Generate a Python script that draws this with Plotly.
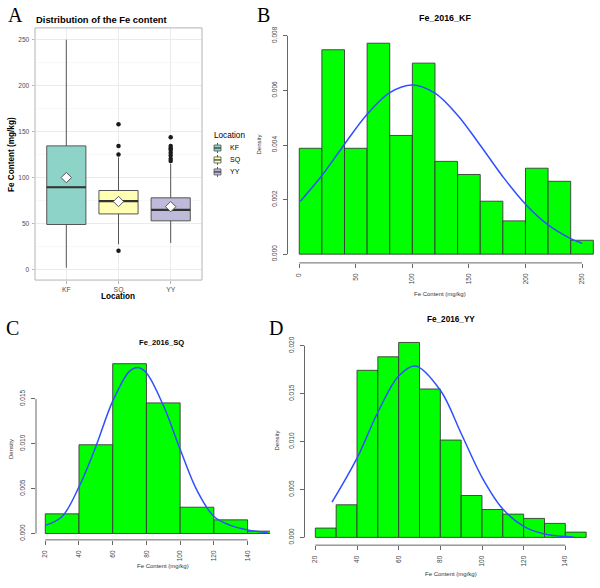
import plotly.graph_objects as go

W, H = 600, 588
def fx(p): return p / W
def fy(p): return 1 - p / H

# ---------------- Panel A data (box plot) ----------------
locations = ["KF", "SQ", "YY"]
loc_pos = [1, 2, 3]
box_q1 = [49, 60.5, 53]
box_median = [89.5, 74.4, 65]
box_q3 = [134.5, 86, 78]
box_lower = [2, 27.5, 29]
box_upper = [250, 122, 115]
box_mean = [100, 74, 68.4]
box_colors = ["#8DD3C7", "#FFFFB3", "#BEBADA"]
sq_outliers = [20.5, 125, 134.5, 158]
yy_outliers = [118, 120.5, 124, 127, 130, 132, 134.5, 144]

# ---------------- Panel B data (KF histogram) ----------------
kf_breaks = [0, 20, 40, 60, 80, 100, 120, 140, 160, 180, 200, 220, 240, 260]
kf_density = [0.00388, 0.00749, 0.00388, 0.00773, 0.00435, 0.00700, 0.00340,
              0.00292, 0.00194, 0.00122, 0.00315, 0.00267, 0.00051]
kf_curve_x = [1, 20, 40, 60, 80, 100, 120, 140, 160, 180, 200, 220, 240, 250]
kf_curve_y = [0.00194, 0.00288, 0.00403, 0.00513, 0.00592, 0.00620, 0.00590,
              0.00509, 0.00399, 0.00284, 0.00183, 0.00107, 0.00057, 0.00040]

# ---------------- Panel C data (SQ histogram) ----------------
sq_breaks = [20, 40, 60, 80, 100, 120, 140, 160]
sq_density = [0.00219, 0.00989, 0.01893, 0.01456, 0.00293, 0.00152, 0.00026]
sq_curve_x = [20, 30, 40, 50, 60, 70, 75, 80, 90, 100, 110, 120, 130, 140, 152]
sq_curve_y = [0.0009, 0.0019, 0.0052, 0.0097, 0.01475, 0.0181, 0.0185, 0.0179,
              0.01429, 0.0094, 0.0048, 0.0019, 0.0009, 0.0004, 0.0001]

# ---------------- Panel D data (YY histogram) ----------------
yy_breaks = [20, 30, 40, 50, 60, 70, 80, 90, 100, 110, 120, 130, 140, 150]
yy_density = [0.00097, 0.00340, 0.01744, 0.01885, 0.02035, 0.01549, 0.01016,
              0.00437, 0.00291, 0.00243, 0.00198, 0.00146, 0.00055]
yy_curve_x = [28, 40, 50, 60, 68, 80, 90, 100, 110, 120, 130, 144]
yy_curve_y = [0.00367, 0.00827, 0.01306, 0.01685, 0.01789, 0.01536, 0.01085,
              0.00627, 0.00296, 0.00115, 0.00036, 0.00005]

SANS = "Liberation Sans, Arial, sans-serif"
SERIF = "Liberation Serif, Times New Roman, serif"
GREEN = "#00FF00"
BARLINE = "#3a3a3a"
BLUE = "#3050FF"
AXC = "#666666"

fig = go.Figure()

# ---- Panel A ----
bw = 0.75
for i, loc in enumerate(locations):
    fig.add_trace(go.Box(
        x=[loc_pos[i]], q1=[box_q1[i]], median=[box_median[i]], q3=[box_q3[i]],
        lowerfence=[box_lower[i]], upperfence=[box_upper[i]],
        width=bw, whiskerwidth=0, boxpoints=False,
        fillcolor=box_colors[i], line=dict(color="#555555", width=1),
        name=loc, showlegend=False, xaxis="x", yaxis="y", hoverinfo="skip"))
    fig.add_trace(go.Scatter(
        x=[loc_pos[i] - bw / 2, loc_pos[i] + bw / 2],
        y=[box_median[i], box_median[i]], mode="lines",
        line=dict(color="#333333", width=2.2), showlegend=False,
        xaxis="x", yaxis="y", hoverinfo="skip"))

fig.add_trace(go.Scatter(
    x=[loc_pos[1]] * len(sq_outliers) + [loc_pos[2]] * len(yy_outliers),
    y=sq_outliers + yy_outliers, mode="markers",
    marker=dict(color="#1a1a1a", size=4.5), showlegend=False,
    xaxis="x", yaxis="y", hoverinfo="skip"))
fig.add_trace(go.Scatter(
    x=loc_pos, y=box_mean, mode="markers",
    marker=dict(symbol="diamond", color="white", size=8,
                line=dict(color="#555555", width=1)),
    showlegend=False, xaxis="x", yaxis="y", hoverinfo="skip"))

# ---- Histograms ----
def add_hist(breaks, dens, cx, cy, xa, ya):
    centers = [(breaks[k] + breaks[k + 1]) / 2 for k in range(len(dens))]
    widths = [breaks[k + 1] - breaks[k] for k in range(len(dens))]
    fig.add_trace(go.Bar(x=centers, y=dens, width=widths,
                         marker=dict(color=GREEN, line=dict(color=BARLINE, width=0.9)),
                         showlegend=False, xaxis=xa, yaxis=ya, hoverinfo="skip"))
    fig.add_trace(go.Scatter(x=cx, y=cy, mode="lines", line=dict(color=BLUE, width=1.5, shape="spline"),
                             showlegend=False, xaxis=xa, yaxis=ya, hoverinfo="skip"))

add_hist(kf_breaks, kf_density, kf_curve_x, kf_curve_y, "x2", "y2")
add_hist(sq_breaks, sq_density, sq_curve_x, sq_curve_y, "x3", "y3")
add_hist(yy_breaks, yy_density, yy_curve_x, yy_curve_y, "x4", "y4")

tickfont = dict(family=SANS, size=6.5, color="#444444")

def r_axes(xd, yd, xr, yr, xt, yt, ytxt):
    xa = dict(domain=xd, range=xr, tickvals=xt, ticktext=[str(v) for v in xt],
              tickangle=-90, ticks="outside", ticklen=4, tickcolor=AXC, tickwidth=1,
              showline=False, showgrid=False, zeroline=False, tickfont=tickfont,
              ticklabelstandoff=3, fixedrange=True)
    ya = dict(domain=yd, range=yr, tickvals=yt, ticktext=ytxt,
              tickangle=-90, ticks="outside", ticklen=4, tickcolor=AXC, tickwidth=1,
              showline=False, showgrid=False, zeroline=False, tickfont=tickfont,
              ticklabelstandoff=3, fixedrange=True)
    return xa, ya

kf_xt = [0, 50, 100, 150, 200, 250]
kf_yt = [0, 0.002, 0.004, 0.006, 0.008]
sq_xt = [20, 40, 60, 80, 100, 120, 140]
sq_yt = [0, 0.005, 0.010, 0.015]
yy_xt = [20, 40, 60, 80, 100, 120, 140]
yy_yt = [0, 0.005, 0.010, 0.015, 0.020]

x2, y2 = r_axes([fx(287.5), 1.0], [fy(262.8), fy(26.2)], [-10.4, 265.9], [-0.00032, 0.00832],
                kf_xt, kf_yt, ["%.3f" % v for v in kf_yt])
x3, y3 = r_axes([fx(36), fx(270)], [fy(540.7), fy(357)], [14.5, 153.3], [-0.00071, 0.0197],
                sq_xt, sq_yt, ["%.3f" % v for v in sq_yt])
x4, y4 = r_axes([fx(304.5), fx(597)], [fy(546), fy(335.3)], [14.8, 155.2], [-0.00081, 0.02111],
                yy_xt, yy_yt, ["%.3f" % v for v in yy_yt])
x2["anchor"] = "y2"; y2["anchor"] = "x2"
x3["anchor"] = "y3"; y3["anchor"] = "x3"
x4["anchor"] = "y4"; y4["anchor"] = "x4"

shapes = []
for (xa, ya, xt, yt) in [("x2", "y2", kf_xt, kf_yt), ("x3", "y3", sq_xt, sq_yt), ("x4", "y4", yy_xt, yy_yt)]:
    shapes.append(dict(type="line", xref=xa, yref=ya + " domain", x0=xt[0], x1=xt[-1], y0=0, y1=0,
                       line=dict(color=AXC, width=1)))
    shapes.append(dict(type="line", xref=xa + " domain", yref=ya, x0=0, x1=0, y0=yt[0], y1=yt[-1],
                       line=dict(color=AXC, width=1)))
# Panel A border
shapes.append(dict(type="rect", xref="x domain", yref="y domain", x0=0, x1=1, y0=0, y1=1,
                   line=dict(color="#B3B3B3", width=1), layer="above"))

annotations = []
def ann(text, x, y, size, bold=False, angle=0, family=SANS, color="#000000", xanchor="center"):
    annotations.append(dict(text=("<b>%s</b>" % text) if bold else text, x=fx(x), y=fy(y),
                            xref="paper", yref="paper", showarrow=False, textangle=angle,
                            xanchor=xanchor, yanchor="middle",
                            font=dict(family=family, size=size, color=color)))

# Manual legend for panel A
ann("Location", 212, 134.5, 8.2, xanchor="left")
leg_y = [147.5, 159.5, 171.5]
for i, loc in enumerate(locations):
    yc = leg_y[i]
    shapes.append(dict(type="line", xref="paper", yref="paper", x0=fx(217.5), x1=fx(217.5),
                       y0=fy(yc - 5), y1=fy(yc + 5), line=dict(color="#555555", width=1)))
    shapes.append(dict(type="rect", xref="paper", yref="paper", x0=fx(214), x1=fx(221),
                       y0=fy(yc + 3), y1=fy(yc - 3), fillcolor=box_colors[i],
                       line=dict(color="#555555", width=0.8)))
    shapes.append(dict(type="line", xref="paper", yref="paper", x0=fx(214), x1=fx(221),
                       y0=fy(yc), y1=fy(yc), line=dict(color="#333333", width=1.2)))
    ann(loc, 227.5, yc, 7, xanchor="left")

a_yt = [0, 50, 100, 150, 200, 250]

ann("A", 15, 14, 20, family=SERIF)
ann("B", 263, 14, 20, family=SERIF)
ann("C", 12, 328, 20, family=SERIF)
ann("D", 276, 328, 20, family=SERIF)

ann("Distribution of the Fe content", 34, 18.5, 9.4, bold=True, xanchor="left")
ann("Fe Content (mg/kg)", 11.5, 154, 8.2, bold=True, angle=-90)
ann("Location", 117.5, 296.5, 8.2, bold=True)

ann("Fe_2016_KF", 445, 17, 8.9, bold=True)
ann("Density", 259, 144, 6, angle=-90, color="#333333")
ann("Fe Content (mg/kg)", 440, 294.5, 6, color="#333333")

ann("Fe_2016_SQ", 161, 343, 7.6, bold=True)
ann("Density", 11, 449.5, 6, angle=-90, color="#333333")
ann("Fe Content (mg/kg)", 163, 566.5, 6, color="#333333")

ann("Fe_2016_YY", 450.5, 319.5, 8.2, bold=True)
ann("Density", 276, 441, 6, angle=-90, color="#333333")
ann("Fe Content (mg/kg)", 450.5, 575, 6, color="#333333")

fig.update_layout(
    width=W, height=H, margin=dict(l=0, r=0, t=0, b=0),
    paper_bgcolor="white", plot_bgcolor="white",
    showlegend=False, boxmode="overlay",
    xaxis=dict(domain=[fx(35), fx(202)], range=[0.4, 3.6], anchor="y",
               tickvals=loc_pos, ticktext=locations, ticks="outside", ticklen=2.5,
               tickcolor="#B3B3B3", showgrid=True, gridcolor="#EBEBEB", gridwidth=1,
               zeroline=False, showline=False, ticklabelstandoff=0,
               tickfont=dict(family=SANS, size=6.8, color="#4D4D4D"), fixedrange=True),
    yaxis=dict(domain=[fy(280), fy(27)], range=[-11.4, 262.8], anchor="x",
               tickvals=a_yt, ticktext=[str(v) for v in a_yt], ticks="outside", ticklen=2.5,
               tickcolor="#B3B3B3", showgrid=True, gridcolor="#EBEBEB", gridwidth=1,
               minor=dict(dtick=25, tick0=25, showgrid=True, gridcolor="#F4F4F4", gridwidth=0.6, ticks=""),
               zeroline=False, showline=False, ticklabelstandoff=1,
               tickfont=dict(family=SANS, size=6.5, color="#4D4D4D"), fixedrange=True),
    xaxis2=x2, yaxis2=y2, xaxis3=x3, yaxis3=y3, xaxis4=x4, yaxis4=y4,
    shapes=shapes, annotations=annotations,
)

fig.write_html("out.html", config={"displayModeBar": False, "staticPlot": True},
               post_script="document.body.style.margin='0px';")
